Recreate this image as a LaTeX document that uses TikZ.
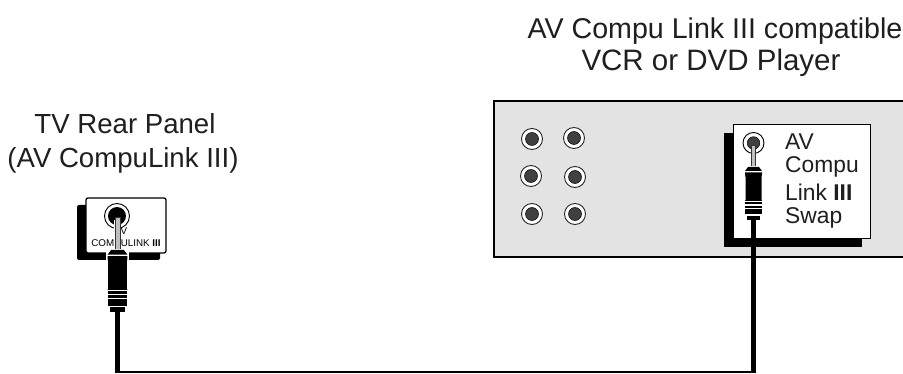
\documentclass[tikz,border=0pt]{standalone}
\usepackage{fontspec}
\setmainfont{Liberation Sans}
\tikzset{
  x=1pt,y=-1pt,
  lbl/.style={font=\fontsize{27.6}{27.6}\selectfont,text=black!88,inner sep=0pt,anchor=center},
  lbltop/.style={font=\fontsize{28.6}{28.6}\selectfont,text=black!88,inner sep=0pt,anchor=center},
  lblsec/.style={font=\fontsize{29.5}{29.5}\selectfont,text=black!88,inner sep=0pt,anchor=center},
  ptxt/.style={font=\fontsize{22.8}{22.8}\selectfont,text=black!88,inner sep=0pt,anchor=west},
  wire/.style={draw=black,line width=4.5pt},
  thin wire/.style={draw=black,line width=1.6pt},
  jackouter/.style={circle,draw=black!85,line width=0.9pt,fill=white,minimum size=21pt,inner sep=0pt},
  jackinner/.style={circle,draw=black,line width=0.5pt,fill=black!75,minimum size=13pt,inner sep=0pt},
  stem/.style={draw=black!80,fill=black!25,line width=0.7pt}
}
\newcommand{\jackat}[3]{%
  \node[jackouter] (#1o) at (#2,#3) {};
  \node[jackinner] (#1i) at (#2,#3) {};
}
\newcommand{\plugbody}[3]{%
  % #1 x centre, #2 y top of plug, #3 scale
  \begin{scope}[shift={(#1,#2)},scale=#3]
    \fill[white] (-9.5,-1) rectangle (9.5,55);
    \fill[black] (-5.5,0) -- (5.5,0) -- (8.5,4) -- (-8.5,4) -- cycle;
    \fill[black] (-8.5,5.3) -- (8.5,5.3) -- (8.5,7) -- (8,10) -- (8,33) -- (8.5,34) -- (-8.5,34) -- (-8,33) -- (-8,10) -- (-8.5,7) -- cycle;
    \fill[black] (-8.5,35.2) rectangle (8.5,37.4);
    \fill[black] (-8.5,38.6) rectangle (8.5,41);
    \fill[black] (-8.5,42.2) rectangle (8.5,47.5);
    \fill[black] (-6.3,48.7) rectangle (6.3,53);
  \end{scope}
}
\begin{document}
\begin{tikzpicture}
\useasboundingbox (0,0) rectangle (903,374);
\fill[white] (0,0) rectangle (903,374);

% device panel
\path[fill=black!11] (494,101) rectangle (905,257);
\draw[black,line width=1.3pt] (905,101) -- (494,101) -- (494,257) -- (905,257);

\jackat{a}{532}{139}
\jackat{b}{574}{138}
\jackat{c}{531}{176}
\jackat{d}{575}{177}
\jackat{e}{532}{214}
\jackat{f}{575}{214}

% right socket panel
\fill[black] (724,133) rectangle (862,247);
\path[fill=white,draw=black,line width=0.9pt] (733,124.5) rectangle (870,238);
\node[ptxt] (rav) at (785,142) {AV};
\node[ptxt] (rcompu) at (785,167) {Compu};
\node[ptxt] (rlink) at (785,192) {Link {\bfseries III}};
\node[ptxt] (rswap) at (785,218) {Swap};
\node[circle,draw=black,line width=0.9pt,fill=white,minimum size=21pt,inner sep=0pt] (rjo) at (753.5,143) {};
\node[circle,draw=black,fill=black!75,line width=0.5pt,minimum size=12.5pt,inner sep=0pt] (rji) at (753.5,143) {};

% left socket panel
\fill[black,rounded corners=2pt] (77,205) rectangle (160,260);
\path[fill=white,draw=black,line width=1.3pt,rounded corners=2pt] (86,198) rectangle (166,253);
\node[font=\fontsize{9.8}{9.8}\selectfont,inner sep=0pt] (ltv) at (124,231) {V};
\node[font=\fontsize{9.8}{9.8}\selectfont,inner sep=0pt] (lcomp) at (126,243) {COMPULINK {\bfseries III}};
\node[circle,draw=black,line width=0.9pt,fill=white,minimum size=25pt,inner sep=0pt] (ljo) at (117,216) {};
\node[circle,fill=black,minimum size=18pt,inner sep=0pt] (lji) at (117,216) {};

% connector cable
\coordinate (lbend) at (117.5,372);
\coordinate (rbend) at (753.5,372);

% left plug
\fill[white] (113.8,220) rectangle (121.2,254);
\path[stem] (115,217) rectangle (120,254);
\plugbody{117.5}{250}{1.17}

% right plug
\path[stem] (751.5,145) rectangle (755.5,170);
\plugbody{753.5}{167}{1}

\draw[wire] (117.5,312) -- (lbend) -- ++(0,1);
\draw[wire] (753.5,220) -- (rbend) -- ++(0,1);
\draw[thin wire] (lbend) -- (rbend);

% captions
\node[lbl] (tvone) at (125,124) {TV Rear Panel};
\node[lbl] (tvtwo) at (123,160) {(AV CompuLink III)};
\node[lbltop] (avone) at (715,31) {AV Compu Link III compatible};
\node[lblsec] (avtwo) at (711,63) {VCR or DVD Player};
\end{tikzpicture}
\end{document}
